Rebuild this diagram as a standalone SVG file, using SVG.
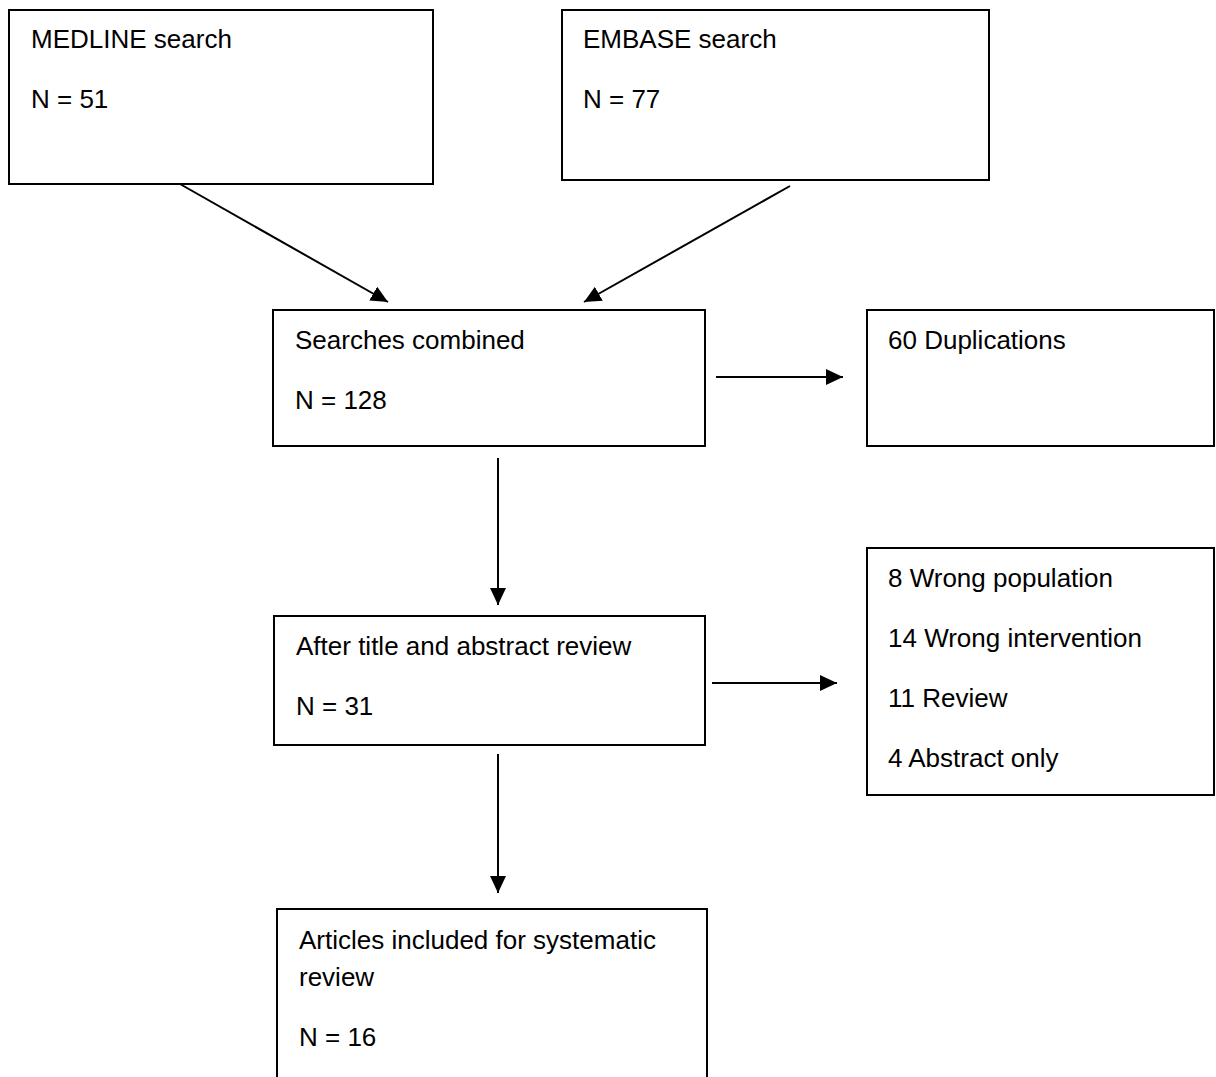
<svg xmlns="http://www.w3.org/2000/svg" width="1216" height="1077" viewBox="0 0 1216 1077">
<style>
.box{fill:#fff;stroke:#000;stroke-width:2}
.t{font-family:"Liberation Sans",Arial,sans-serif;font-size:26px;fill:#000}
.c{stroke:#000;stroke-width:2;fill:none;marker-end:url(#ah)}
</style>
<defs>
<marker id="ah" markerUnits="userSpaceOnUse" markerWidth="20" markerHeight="20" refX="17" refY="8" orient="auto">
<path d="M0,0 L17,8 L0,16 z" fill="#000"/>
</marker>
</defs>
<rect width="1216" height="1077" fill="#fff"/>
<g id="medline">
<rect class="box" x="9" y="10" width="424" height="174"/>
<text class="t" x="31" y="48">MEDLINE search</text>
<text class="t" x="31" y="108">N = 51</text>
</g>
<g id="embase">
<rect class="box" x="562" y="10" width="427" height="170"/>
<text class="t" x="583" y="48">EMBASE search</text>
<text class="t" x="583" y="108">N = 77</text>
</g>
<g id="combined">
<rect class="box" x="273" y="310" width="432" height="136"/>
<text class="t" x="295" y="349">Searches combined</text>
<text class="t" x="295" y="409">N = 128</text>
</g>
<g id="duplications">
<rect class="box" x="867" y="310" width="347" height="136"/>
<text class="t" x="888" y="349">60 Duplications</text>
</g>
<g id="abstract-review">
<rect class="box" x="274" y="616" width="431" height="129"/>
<text class="t" x="296" y="655">After title and abstract review</text>
<text class="t" x="296" y="715">N = 31</text>
</g>
<g id="excluded">
<rect class="box" x="867" y="548" width="347" height="247"/>
<text class="t" x="888" y="587">8 Wrong population</text>
<text class="t" x="888" y="647">14 Wrong intervention</text>
<text class="t" x="888" y="707">11 Review</text>
<text class="t" x="888" y="767">4 Abstract only</text>
</g>
<g id="included">
<rect class="box" x="277" y="909" width="430" height="180"/>
<text class="t" x="299" y="949">Articles included for systematic</text>
<text class="t" x="299" y="986">review</text>
<text class="t" x="299" y="1046">N = 16</text>
</g>
<g id="connectors">
<line class="c" x1="180" y1="184" x2="388" y2="302"/>
<line class="c" x1="790" y1="186" x2="584" y2="302"/>
<line class="c" x1="716" y1="377" x2="843" y2="377"/>
<line class="c" x1="498" y1="458" x2="498" y2="605"/>
<line class="c" x1="712" y1="683" x2="837" y2="683"/>
<line class="c" x1="498" y1="754" x2="498" y2="893"/>
</g>
</svg>
